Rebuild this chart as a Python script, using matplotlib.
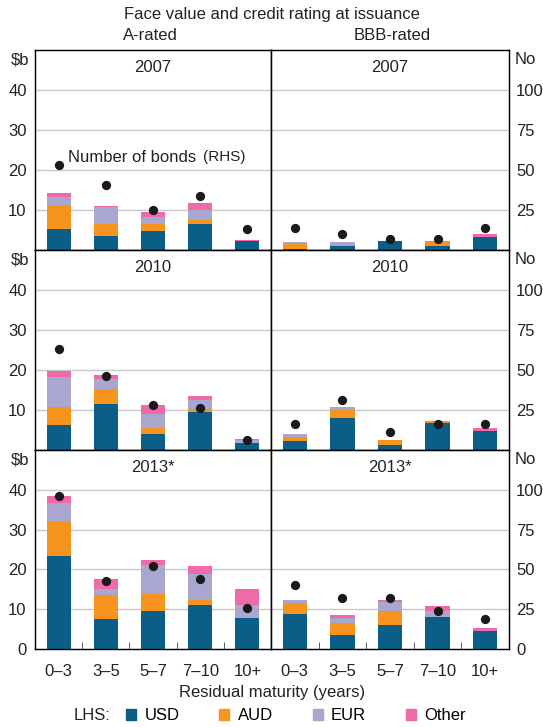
import numpy as np
import matplotlib
matplotlib.use("Agg")
import matplotlib.pyplot as plt
from matplotlib.patches import Patch

plt.rcParams['font.family'] = ['Liberation Sans', 'DejaVu Sans']

maturity = ['0\u20133', '3\u20135', '5\u20137', '7\u201310', '10+']
years = ['2007', '2010', '2013*']
currencies = ['USD', 'AUD', 'EUR', 'Other']
colors = ['#0b5e87', '#f7941d', '#a9a7cf', '#ef6aa9']

# $b, rows = years, columns = maturity buckets
a_usd = [[5.25, 3.5, 4.75, 6.6, 2.25], [6.25, 11.5, 4.0, 9.5, 1.75], [23.25, 7.5, 9.5, 11.0, 7.75]]
a_aud = [[6.0, 3.1, 1.85, 0.9, 0], [4.5, 3.7, 1.5, 0.7, 0], [9.0, 6.0, 4.25, 1.2, 0]]
a_eur = [[2.0, 4.2, 1.65, 2.5, 0], [7.5, 2.55, 3.5, 2.3, 0.75], [4.5, 1.5, 7.25, 6.55, 3.25]]
a_oth = [[1.0, 0.3, 1.25, 1.75, 0.25], [1.5, 1.0, 2.25, 1.0, 0.25], [1.75, 2.5, 1.25, 2.0, 4.0]]
a_count = [[53, 40.5, 25, 33.5, 13], [63, 46, 28, 26.5, 6], [96, 43, 52, 44, 26]]

bbb_usd = [[0.25, 1.0, 2.25, 1.0, 3.25], [2.25, 8.0, 1.25, 6.75, 4.75], [8.75, 3.5, 6.0, 8.0, 4.5]]
bbb_aud = [[1.5, 0.25, 0, 1.25, 0], [1.0, 2.0, 1.25, 0.5, 0], [2.85, 3.0, 3.5, 0, 0]]
bbb_eur = [[0.25, 0.75, 0, 0, 0], [0.75, 0.75, 0, 0, 0], [0.65, 1.25, 2.25, 1.5, 0]]
bbb_oth = [[0, 0, 0, 0, 0.75], [0, 0, 0, 0, 0.75], [0, 0.75, 0.5, 1.25, 0.75]]
bbb_count = [[13.5, 10, 7, 7, 13.5], [16, 31, 11, 16, 16.5], [40, 32, 32, 24, 19]]

ratings = [
    ('A-rated', [a_usd, a_aud, a_eur, a_oth], a_count),
    ('BBB-rated', [bbb_usd, bbb_aud, bbb_eur, bbb_oth], bbb_count),
]

W, H = 543, 727
fig = plt.figure(figsize=(W / 100, H / 100), dpi=100)

col_x = [(35, 271), (271, 509)]
row_y = [(50, 250), (250, 450), (450, 649)]
fs = 12
x = np.arange(len(maturity))

for c, (rname, series, counts) in enumerate(ratings):
    for r, yr in enumerate(years):
        x0, x1 = col_x[c]
        y0, y1 = row_y[r]
        ax = fig.add_axes([x0 / W, 1 - y1 / H, (x1 - x0) / W, (y1 - y0) / H])
        bottom = np.zeros(len(maturity))
        for vals, col in zip(series, colors):
            v = np.array(vals[r])
            ax.bar(x, v, 0.51, bottom=bottom, color=col, zorder=2, linewidth=0)
            bottom += v
        ax.set_xlim(-0.5, 4.5)
        ax.set_ylim(0, 50)
        for yy in [10, 20, 30, 40]:
            ax.axhline(yy, color='#c8c8c8', lw=1, zorder=1)
        for s in ax.spines.values():
            s.set_color('#222222')
            s.set_linewidth(1)
        ax.text(0.5, 1 - 18 / 200, yr, transform=ax.transAxes, ha='center', va='center', fontsize=fs, color='#222222')

        ax2 = ax.twinx()
        ax2.set_ylim(0, 125)
        ax2.scatter(x, counts[r], s=32, color='#1a1a1a', zorder=5)
        ax.set_zorder(1)
        ax2.set_zorder(2)
        ax2.patch.set_visible(False)

        if r == 2:
            ax.set_yticks([0, 10, 20, 30, 40])
            ax2.set_yticks([0, 25, 50, 75, 100])
            ax.set_xticks(x)
            ax.set_xticklabels(maturity, fontsize=fs, color='#222222')
            ax.tick_params(axis='x', length=0, pad=11)
            ax.set_xticks([0.5, 1.5, 2.5, 3.5], minor=True)
            ax.tick_params(axis='x', which='minor', direction='in', length=5, color='#444444')
        else:
            ax.set_yticks([10, 20, 30, 40])
            ax2.set_yticks([25, 50, 75, 100])
            ax.set_xticks([])
        ax.tick_params(axis='y', length=0, pad=6, labelsize=fs, labelcolor='#222222')
        ax2.tick_params(axis='y', length=0, pad=5, labelsize=fs, labelcolor='#222222')
        if c == 0:
            ax2.set_yticklabels([])
            ax.text(-6 / 236, 1 - 10 / 200, '$b', transform=ax.transAxes, ha='right', va='center', fontsize=fs, color='#222222')
        else:
            ax.set_yticklabels([])
            ax2.text(1 + 6 / 238, 1 - 10 / 200, 'No', transform=ax.transAxes, ha='left', va='center', fontsize=fs, color='#222222')
        if c == 0 and r == 0:
            ax.text(0.14, 0.465, 'Number of bonds', transform=ax.transAxes, ha='left', va='center', fontsize=fs, color='#222222')
            ax.text(0.71, 0.465, '(RHS)', transform=ax.transAxes, ha='left', va='center', fontsize=11, color='#222222')

fig.text(272 / W, 1 - 14 / H, 'Face value and credit rating at issuance', ha='center', va='center', fontsize=fs, color='#222222')
fig.text(150 / W, 1 - 36 / H, 'A-rated', ha='center', va='center', fontsize=fs, color='#222222')
fig.text(392 / W, 1 - 36 / H, 'BBB-rated', ha='center', va='center', fontsize=fs, color='#222222')
fig.text(272 / W, 1 - 692 / H, 'Residual maturity (years)', ha='center', va='center', fontsize=fs, color='#222222')
fig.text(110 / W, 1 - 715 / H, 'LHS:', ha='right', va='center', fontsize=fs, color='#222222')

handles = [Patch(color=col, label=lab) for col, lab in zip(colors, currencies)]
fig.legend(handles=handles, loc='center left', bbox_to_anchor=(126 / W, 1 - 716 / H), ncol=4,
           frameon=False, fontsize=fs, handlelength=0.6, handleheight=0.6, handletextpad=0.5,
           columnspacing=2.4, borderaxespad=0, borderpad=0)

fig.savefig('out.png', dpi=100)
